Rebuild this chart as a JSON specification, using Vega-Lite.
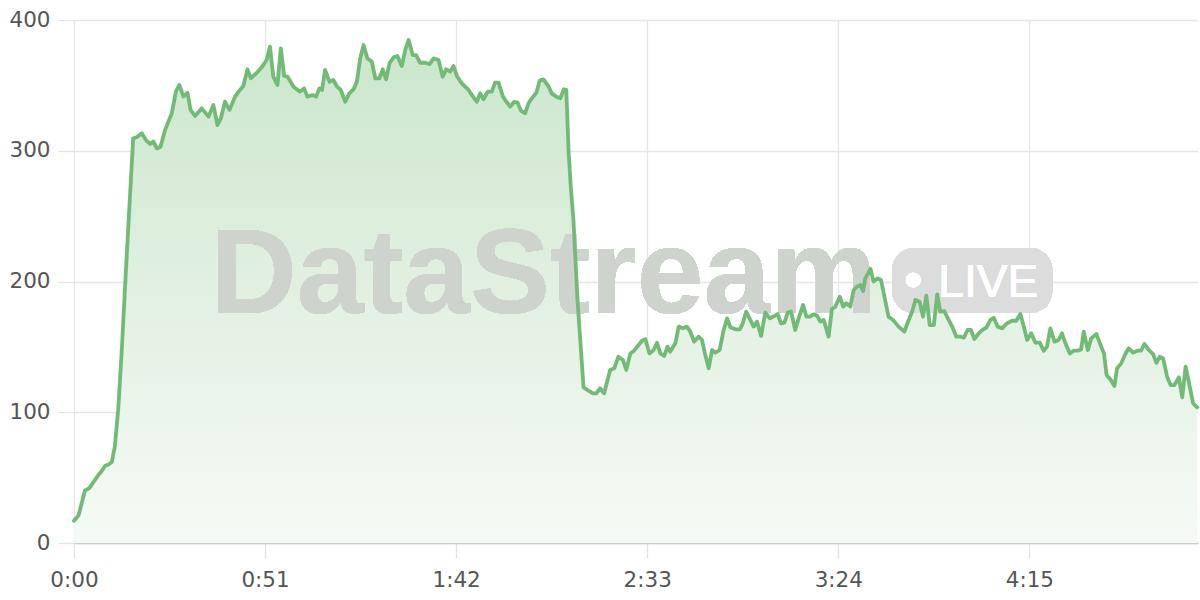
{
  "$schema": "https://vega.github.io/schema/vega-lite/v6.json",
  "width": 1124,
  "height": 523,
  "autosize": {"type": "none"},
  "padding": {"left": 74, "top": 20, "right": 2, "bottom": 57},
  "background": "white",
  "config": {
    "view": {"stroke": null},
    "axis": {
      "labelFont": "DejaVu Sans",
      "labelFontSize": 21.5,
      "labelColor": "#555555",
      "gridColor": "#e6e6e6",
      "gridWidth": 1.3,
      "tickColor": "#e3e3e3",
      "tickWidth": 1.3,
      "labelFlush": false,
      "title": null
    }
  },
  "data": {
    "values": [
      {"t":0,"v":17},{"t":1.2,"v":21},{"t":2.9,"v":40},{"t":4.1,"v":42},{"t":5.3,"v":47},{"t":6.5,"v":52},{"t":7.4,"v":55},{"t":8.3,"v":59},{"t":9.2,"v":60},{"t":10.1,"v":62},{"t":10.9,"v":74},{"t":11.8,"v":102},{"t":12.8,"v":150},{"t":13.8,"v":205},{"t":14.8,"v":258},{"t":15.8,"v":309.5},
      {"t":16.7,"v":310.3},{"t":18.1,"v":313.3},{"t":19.2,"v":308.2},{"t":20.3,"v":305.2},{"t":21.2,"v":307},{"t":22.1,"v":301.8},{"t":23.1,"v":303.1},{"t":24.3,"v":315.9},{"t":26.1,"v":328.6},{"t":27.2,"v":345.2},{"t":28.1,"v":350.3},{"t":29.2,"v":341.4},{"t":30.3,"v":344.4},{"t":31.1,"v":331.2},{"t":32.3,"v":326.6},{"t":34.1,"v":332.4},{"t":35.9,"v":326.1},{"t":37.2,"v":335},{"t":38.3,"v":319.7},{"t":39.2,"v":324.8},{"t":40.3,"v":337.5},{"t":41.5,"v":331.2},{"t":43,"v":341.4},{"t":43.9,"v":345.2},{"t":45.2,"v":349.5},{"t":46.3,"v":362.3},{"t":47.2,"v":355.4},{"t":48.8,"v":359.7},{"t":50.1,"v":363.8},{"t":51.4,"v":369.4},{"t":52.3,"v":379.6},{"t":53.2,"v":356.7},{"t":54.3,"v":350.3},{"t":55.2,"v":378.3},{"t":56.1,"v":357.2},{"t":57,"v":356.7},{"t":58.6,"v":349},{"t":60.3,"v":345.2},{"t":61.4,"v":347.7},{"t":62.3,"v":341.4},{"t":63.7,"v":342.6},{"t":64.6,"v":341.4},{"t":65.5,"v":347.7},{"t":66.2,"v":346.5},{"t":67,"v":361.8},{"t":68.2,"v":352.8},{"t":69.2,"v":354.1},{"t":70.1,"v":349.5},{"t":71.2,"v":346.5},{"t":72.4,"v":337.5},{"t":73.5,"v":343.9},{"t":74.6,"v":346.9},{"t":75.5,"v":352.8},{"t":76.4,"v":370.7},{"t":77.3,"v":380.9},{"t":78.3,"v":370.7},{"t":79.5,"v":368.1},{"t":80.4,"v":355.4},{"t":81.5,"v":355.4},{"t":82.4,"v":362.3},{"t":83.3,"v":354.6},
      {"t":84.2,"v":366.9},{"t":85.3,"v":371.4},{"t":86.3,"v":372.5},{"t":87.5,"v":364.8},{"t":88.4,"v":377},{"t":89.3,"v":384.7},{"t":90.4,"v":373.2},{"t":91.3,"v":373.2},{"t":92.4,"v":367.3},{"t":93.7,"v":367.3},{"t":94.9,"v":366.3},{"t":96,"v":370.7},{"t":97.3,"v":369.4},{"t":98.4,"v":356.6},{"t":99.3,"v":362.3},{"t":100.4,"v":360.5},{"t":101.3,"v":364.8},{"t":102.2,"v":357.2},{"t":103.5,"v":351.6},{"t":105.3,"v":346.5},{"t":106.5,"v":341.4},{"t":107.5,"v":337.5},{"t":108.4,"v":343.9},{"t":109.3,"v":339.3},{"t":110.4,"v":345.2},{"t":111.5,"v":345.2},{"t":112.4,"v":352.1},{"t":113.3,"v":352.1},{"t":114.5,"v":341.4},{"t":115.4,"v":337.5},{"t":116.4,"v":333.7},{"t":117.5,"v":337.5},{"t":118.4,"v":336.8},{"t":119.3,"v":330.6},{"t":120.4,"v":328.6},{"t":121.3,"v":336.3},{"t":122.2,"v":340.1},{"t":123.4,"v":344.4},{"t":124.3,"v":353.6},{"t":125.3,"v":354.6},{"t":126.7,"v":349},{"t":127.5,"v":343.9},{"t":128.7,"v":341.4},{"t":129.8,"v":340.1},{"t":130.7,"v":347},{"t":131.4,"v":346.5},
      {"t":132,"v":300},{"t":132.6,"v":272},{"t":133.3,"v":247},{"t":134.4,"v":185},{"t":136,"v":119},
      {"t":137.3,"v":116.5},{"t":138.5,"v":114.5},{"t":139.4,"v":114.5},{"t":140.4,"v":118.3},{"t":141.5,"v":114.5},{"t":143.1,"v":132.3},{"t":144.2,"v":133.6},{"t":145.3,"v":142.5},{"t":146.5,"v":140},{"t":147.4,"v":132.3},{"t":148.5,"v":145},{"t":149.5,"v":147.1},{"t":150.7,"v":151.4},{"t":151.6,"v":154.7},{"t":152.5,"v":155.8},{"t":153.6,"v":145},{"t":154.7,"v":147.6},{"t":155.6,"v":153.2},{"t":156.5,"v":145},{"t":157.5,"v":143},{"t":158.4,"v":150.2},{"t":159.1,"v":146.3},{"t":160.5,"v":152.7},{"t":161.4,"v":165.5},{"t":162.5,"v":164.2},{"t":163.6,"v":165.5},{"t":164.5,"v":161.6},{"t":165.5,"v":154},{"t":166.7,"v":157.8},{"t":167.6,"v":155.3},{"t":168.5,"v":143.8},{"t":169.4,"v":133.6},{"t":170.3,"v":147.6},{"t":171.2,"v":145.6},{"t":172.3,"v":147.6},{"t":173.4,"v":162.9},{"t":174.3,"v":171.8},{"t":175.2,"v":165},{"t":176.5,"v":163.4},{"t":177.7,"v":163.4},{"t":178.5,"v":168},{"t":179.4,"v":176.9},{"t":180.5,"v":170.6},{"t":181.4,"v":165.5},{"t":182.3,"v":169.3},{"t":183.4,"v":158.3},{"t":184.5,"v":176.2},{"t":185.7,"v":171.8},{"t":186.9,"v":173.6},{"t":187.8,"v":175.1},{"t":188.7,"v":168},{"t":189.6,"v":168.5},{"t":190.5,"v":176.2},{"t":191.4,"v":176.9},{"t":192.5,"v":162.9},{"t":193.4,"v":171.8},
      {"t":194.6,"v":182},{"t":195.5,"v":173.1},{"t":196.4,"v":173.1},{"t":197.4,"v":174.9},{"t":198.3,"v":173.9},{"t":199.2,"v":169.3},{"t":200.1,"v":170.6},{"t":201.4,"v":157.8},{"t":202.3,"v":179},{"t":203.2,"v":180.8},{"t":204.4,"v":188.4},{"t":205.3,"v":180.8},{"t":206.1,"v":183.3},{"t":207.2,"v":180.8},{"t":208.1,"v":193.5},{"t":209,"v":196.1},{"t":209.9,"v":197.3},{"t":210.6,"v":192.7},{"t":211.2,"v":202.4},{"t":212.6,"v":209.6},{"t":213.4,"v":199.9},{"t":214.5,"v":202.4},{"t":215.4,"v":201.1},{"t":217.4,"v":173.1},{"t":218.6,"v":170.6},{"t":220.1,"v":165.5},{"t":221.6,"v":161.6},{"t":222.8,"v":170.6},{"t":223.7,"v":177},{"t":224.6,"v":185.9},{"t":225.7,"v":184.6},{"t":226.6,"v":173.1},{"t":227.5,"v":189.2},{"t":228.4,"v":166.7},{"t":229.5,"v":166.7},{"t":230.4,"v":190.2},{"t":231.2,"v":177},{"t":232.3,"v":177.4},{"t":233,"v":173.1},{"t":234.4,"v":165.5},{"t":235.5,"v":157.8},{"t":236.6,"v":157.8},{"t":237.5,"v":157.1},{"t":238.5,"v":162.9},{"t":239.4,"v":162.9},{"t":240.3,"v":156},{"t":241.5,"v":160.4},{"t":242.4,"v":162.9},{"t":243.5,"v":164.7},{"t":244.6,"v":170.6},{"t":245.5,"v":172.3},
      {"t":246.5,"v":165.5},{"t":247.7,"v":164.2},{"t":249,"v":168},{"t":250.4,"v":170},{"t":251.5,"v":170},{"t":252.6,"v":175.1},{"t":253.5,"v":165.5},{"t":254.4,"v":155.3},{"t":255.5,"v":160.4},{"t":256.6,"v":153.2},{"t":257.8,"v":153.2},{"t":258.8,"v":147.1},{"t":259.7,"v":150.2},{"t":260.6,"v":164.2},{"t":261.7,"v":154},{"t":262.8,"v":155.3},{"t":263.7,"v":160.4},{"t":264.6,"v":152.7},{"t":265.8,"v":145},{"t":266.8,"v":147.1},{"t":267.9,"v":147.1},{"t":268.8,"v":148.1},{"t":269.5,"v":161.6},{"t":270.6,"v":147.6},{"t":271.5,"v":156.5},{"t":272.9,"v":159.8},{"t":274,"v":151.4},{"t":274.9,"v":145},{"t":275.6,"v":128.5},{"t":276.6,"v":125.2},{"t":277.7,"v":120.1},{"t":278.4,"v":133.6},{"t":279.5,"v":137.4},{"t":280.6,"v":144.5},{"t":281.5,"v":148.9},{"t":282.7,"v":145.6},{"t":283.8,"v":147.1},{"t":284.8,"v":147.1},{"t":285.7,"v":152.2},{"t":286.9,"v":147.6},{"t":288,"v":144.5},{"t":288.9,"v":137.9},{"t":289.8,"v":142.5},{"t":290.7,"v":141.2},{"t":291.8,"v":126.7},{"t":292.7,"v":120.8},{"t":293.7,"v":120.8},{"t":294.9,"v":126.7},{"t":295.8,"v":111.4},{"t":296.7,"v":134.9},{"t":297.8,"v":119.6},{"t":298.7,"v":106.8},{"t":299.8,"v":103.8}
    ]
  },
  "layer": [
    {
      "mark": {
        "type": "area",
        "color": {
          "gradient": "linear",
          "x1": 0, "y1": 0, "x2": 0, "y2": 1,
          "stops": [
            {"offset": 0, "color": "#cbe6cc"},
            {"offset": 0.5, "color": "#e2f0e2"},
            {"offset": 1, "color": "#f6faf6"}
          ]
        }
      },
      "encoding": {
        "x": {
          "field": "t", "type": "quantitative",
          "scale": {"domain": [0, 300], "nice": false},
          "axis": {
            "values": [0, 51, 102, 153, 204, 255],
            "labelExpr": "floor(datum.value/60) + ':' + (datum.value % 60 < 10 ? '0' : '') + (datum.value % 60)",
            "grid": true,
            "tickSize": 15,
            "labelPadding": 11,
            "domainColor": "#cccccc",
            "domainWidth": 1.5,
            "title": null
          }
        },
        "y": {
          "field": "v", "type": "quantitative",
          "scale": {"domain": [0, 400], "nice": false},
          "axis": {
            "values": [0, 100, 200, 300, 400],
            "domain": false,
            "tickSize": 16,
            "labelPadding": 8,
            "title": null
          }
        }
      }
    },
    {
      "mark": {"type": "text", "text": "DataStream", "font": "Liberation Sans", "fontWeight": "bold", "fontSize": 120, "align": "left", "baseline": "alphabetic", "color": "#ced3ce"},
      "encoding": {"x": {"datum": 36.3}, "y": {"datum": 175.9}}
    },
    {
      "mark": {"type": "rect", "cornerRadius": 22, "color": "#dcdcdc"},
      "encoding": {"x": {"datum": 218.4}, "x2": {"datum": 261.1}, "y": {"datum": 225.6}, "y2": {"datum": 175.9}}
    },
    {
      "mark": {"type": "point", "shape": "circle", "filled": true, "color": "white", "opacity": 1, "size": 218},
      "encoding": {"x": {"datum": 224}, "y": {"datum": 201.1}}
    },
    {
      "mark": {"type": "text", "text": "LIVE", "font": "Liberation Sans", "fontSize": 46, "align": "left", "baseline": "alphabetic", "color": "white"},
      "encoding": {"x": {"datum": 230.7}, "y": {"datum": 188.1}}
    },
    {
      "mark": {"type": "line", "color": "#72bb77", "strokeWidth": 3.8, "strokeJoin": "round", "strokeCap": "round"},
      "encoding": {
        "x": {"field": "t", "type": "quantitative"},
        "y": {"field": "v", "type": "quantitative"}
      }
    }
  ]
}
